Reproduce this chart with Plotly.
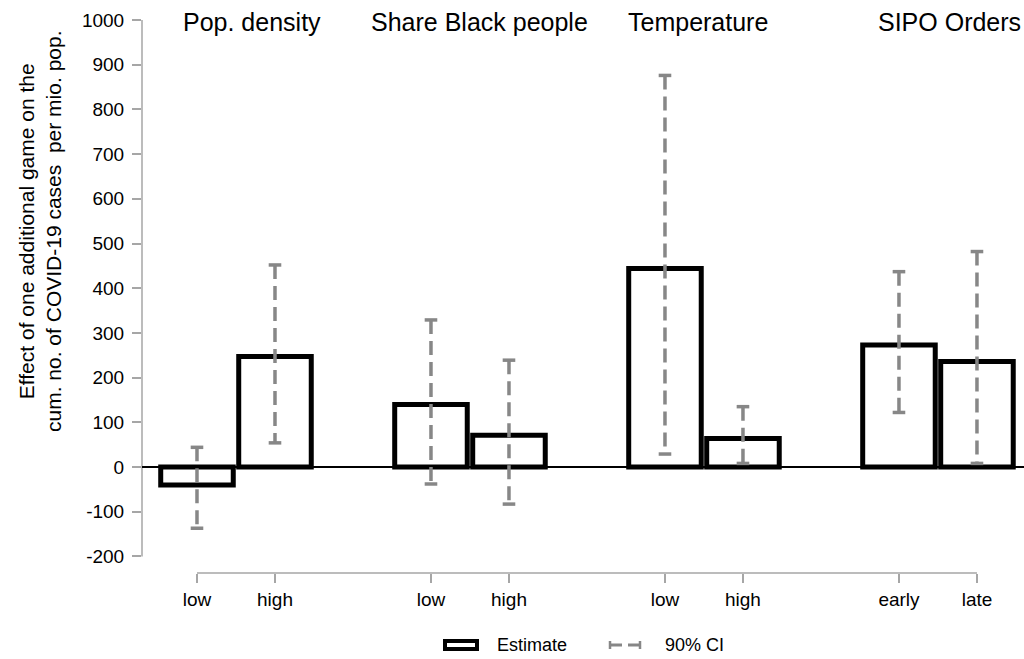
import plotly.graph_objects as go

# ---- data ----
groups = ["Pop. density", "Share Black people", "Temperature", "SIPO Orders"]
categories = ["low", "high", "low", "high", "low", "high", "early", "late"]
positions = [0, 1, 3, 4, 6, 7, 9, 10]
estimates = [-40, 247, 140, 71, 444, 64, 273, 236]
ci_low = [-137, 54, -38, -83, 29, 8, 122, 8]
ci_high = [44, 452, 329, 239, 876, 135, 437, 482]
y_ticks = [-200, -100, 0, 100, 200, 300, 400, 500, 600, 700, 800, 900, 1000]
y_tick_text = [str(v) for v in y_ticks]
y_title_lines = ["Effect of one additional game on the",
                 "cum. no. of COVID-19 cases\u00a0 per mio. pop."]
legend_labels = ["Estimate", "90% CI"]

# ---- layout geometry (pixels) ----
W, H = 1024, 659
L, R, T, B = 142, 0, 20, 86
PW = W - L - R
PH = H - T - B
FONT = "Arial, Liberation Sans, sans-serif"
GRAY = "#878787"
AXGRAY = "#a6a6a6"


def px(xp):
    return (xp - L) / PW


def py(yp):
    return (H - B - yp) / PH


fig = go.Figure()

fig.add_trace(go.Bar(
    x=positions, y=estimates, width=0.93,
    marker=dict(color="white", line=dict(color="black", width=5)),
    showlegend=False, hoverinfo="y"))

ci_x, ci_y = [], []
for p, lo, hi in zip(positions, ci_low, ci_high):
    ci_x += [p, p, None]
    ci_y += [hi, lo, None]
fig.add_trace(go.Scatter(
    x=ci_x, y=ci_y, mode="lines",
    line=dict(color=GRAY, width=3.5, dash="14px,7px"),
    showlegend=False, hoverinfo="skip"))

cap_x, cap_y = [], []
for p, lo, hi in zip(positions, ci_low, ci_high):
    cap_x += [p, p]
    cap_y += [lo, hi]
fig.add_trace(go.Scatter(
    x=cap_x, y=cap_y, mode="markers",
    marker=dict(symbol="line-ew", size=9, line=dict(color=GRAY, width=3.5)),
    showlegend=False, hoverinfo="skip"))

shapes = []
# y axis line from -200 to 1000
shapes.append(dict(type="line", xref="paper", yref="y", x0=0, x1=0,
                   y0=y_ticks[0], y1=y_ticks[-1],
                   line=dict(color=AXGRAY, width=1.5), layer="below"))
# bottom category axis line spanning first to last category
shapes.append(dict(type="line", xref="x", yref="paper", x0=positions[0], x1=positions[-1],
                   y0=0, y1=0, line=dict(color=AXGRAY, width=1.5)))

# legend: Estimate icon
shapes.append(dict(type="rect", xref="paper", yref="paper",
                   x0=px(445), x1=px(477), y0=py(649), y1=py(641),
                   fillcolor="white", line=dict(color="black", width=4)))
# legend: CI icon
shapes.append(dict(type="line", xref="paper", yref="paper", x0=px(610), x1=px(622),
                   y0=py(645), y1=py(645), line=dict(color=GRAY, width=3)))
shapes.append(dict(type="line", xref="paper", yref="paper", x0=px(628), x1=px(640),
                   y0=py(645), y1=py(645), line=dict(color=GRAY, width=3)))
shapes.append(dict(type="line", xref="paper", yref="paper", x0=px(610), x1=px(610),
                   y0=py(641), y1=py(649), line=dict(color=GRAY, width=2.5)))
shapes.append(dict(type="line", xref="paper", yref="paper", x0=px(640), x1=px(640),
                   y0=py(641), y1=py(649), line=dict(color=GRAY, width=2.5)))

annotations = []
title_centers = [252, 479, 698, 949]
for g, cx in zip(groups, title_centers):
    annotations.append(dict(text=g, xref="paper", yref="paper", x=px(cx), y=py(22),
                            xanchor="center", yanchor="middle", showarrow=False,
                            font=dict(family=FONT, size=25, color="black")))
annotations.append(dict(text="<br>".join(y_title_lines), xref="paper", yref="paper",
                        x=px(40), y=py(231), xanchor="center", yanchor="middle",
                        textangle=-90, showarrow=False,
                        font=dict(family=FONT, size=21, color="black")))
annotations.append(dict(text=legend_labels[0], xref="paper", yref="paper",
                        x=px(495), y=py(645), xanchor="left", yanchor="middle",
                        showarrow=False, font=dict(family=FONT, size=18, color="black")))
annotations.append(dict(text=legend_labels[1], xref="paper", yref="paper",
                        x=px(663), y=py(645), xanchor="left", yanchor="middle",
                        showarrow=False, font=dict(family=FONT, size=18, color="black")))

ymin = -(573 - 467) / 0.447
fig.update_layout(
    width=W, height=H,
    margin=dict(l=L, r=R, t=T, b=B, pad=0),
    paper_bgcolor="white", plot_bgcolor="white",
    showlegend=False,
    font=dict(family=FONT, size=19, color="black"),
    xaxis=dict(range=[-0.705, 10.603], tickmode="array", tickvals=positions,
               ticktext=categories, ticks="outside", ticklen=9, tickwidth=1.5,
               tickcolor=AXGRAY, showline=False, showgrid=False, zeroline=False,
               tickfont=dict(family=FONT, size=19, color="black"), fixedrange=True),
    yaxis=dict(range=[ymin, 1000], tickmode="array", tickvals=y_ticks,
               ticktext=y_tick_text, ticks="outside", ticklen=9, tickwidth=1.5,
               tickcolor=AXGRAY, showline=False, showgrid=False,
               zeroline=True, zerolinecolor="black", zerolinewidth=1.5,
               tickfont=dict(family=FONT, size=19, color="black"),
               ticklabelstandoff=4, fixedrange=True),
    shapes=shapes, annotations=annotations,
)

fig.write_html("out.html", config={"displayModeBar": False},
               post_script="document.body.style.margin='0';document.body.style.overflow='hidden';")
